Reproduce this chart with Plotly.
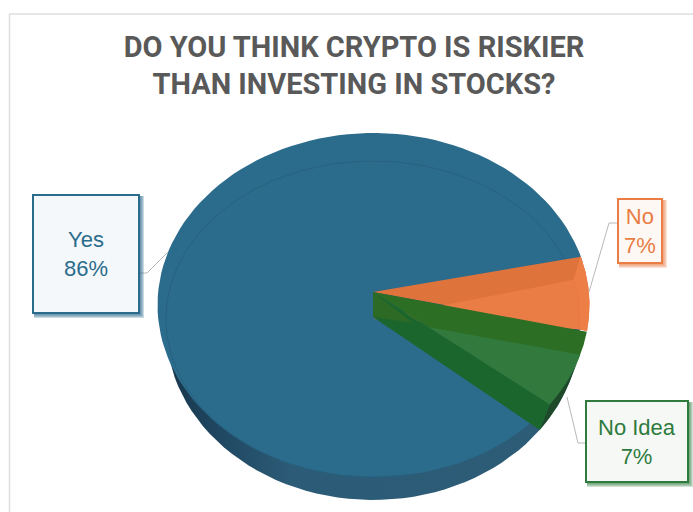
import numpy as np
import plotly.graph_objects as go

# ---- data ----
categories = ["No", "No Idea", "Yes"]
values = [7.0, 7.4, 85.6]
label_texts = ["No<br>7%", "No Idea<br>7%", "Yes<br>86%"]
title_text = "DO YOU THINK CRYPTO IS RISKIER<br>THAN INVESTING IN STOCKS?"

# ---- geometry of the tilted pie (axes run in page pixels) ----
START_ANGLE = 16.5
CX, CY, RX, RY = 373.5, 305.0, 216.0, 172.0          # rim of the top surface
IX, IY, IRX, IRY = 373.0, 319.0, 207.0, 158.0        # inner facet
BX, BY, BRX, BRY = 373.0, 328.0, 207.0, 172.0        # underside
APEX = (373.0, 292.0)
APEX_LOW = (373.0, 317.0)

BOXES = {"No": (618, 199, 662, 263), "No Idea": (586, 401, 688, 482), "Yes": (33, 195, 139, 313)}
LEADERS = {
    "No": ([617, 609, 589], [223, 223, 292]),
    "No Idea": ([586, 578, 567], [443, 443, 397]),
    "Yes": ([139, 147, 168], [273, 273, 252]),
}
EDGE = {"No": "#E97D45", "No Idea": "#2E7B3D", "Yes": "#2B6C8C"}
FILL = {"No": "#FEF8F4", "No Idea": "#F6F8F6", "Yes": "#F4F8FA"}
SHADOW = {"No": "rgba(233,125,69,0.22)", "No Idea": "rgba(46,123,61,0.22)", "Yes": "rgba(43,108,140,0.25)"}


def arc(cx, cy, rx, ry, a0, a1, n=120):
    t = np.radians(np.linspace(a0, a1, n))
    return list(cx + rx * np.cos(t)), list(cy - ry * np.sin(t))


def rim(a0, a1):
    return arc(CX, CY, RX, RY, a0, a1)


def inner(a0, a1):
    return arc(IX, IY, IRX, IRY, a0, a1)


def under(a0, a1, n=120):
    return arc(BX, BY, BRX, BRY, a0, a1, n)


def intersect(p1, p2, p3, p4):
    a = np.array([[p2[0] - p1[0], p3[0] - p4[0]], [p2[1] - p1[1], p3[1] - p4[1]]])
    b = np.array([p3[0] - p1[0], p3[1] - p1[1]])
    s = np.linalg.solve(a, b)[0]
    return p1[0] + s * (p2[0] - p1[0]), p1[1] + s * (p2[1] - p1[1])


def poly(xs, ys, color, name, **kw):
    return go.Scatter(x=xs + xs[:1], y=ys + ys[:1], mode="lines", fill="toself", fillcolor=color,
                      line=dict(width=0, color=color), name=name, hoverinfo="name", **kw)


# slice angles from the values
cum = np.cumsum([0] + values)
ang = [START_ANGLE - 360.0 * c / sum(values) for c in cum]
a_no0, a_no1, a_id1, a_yes1 = ang

fig = go.Figure()

# underside, darker towards the left
ux, uy = under(0, 360)
fig.add_trace(go.Scatter(x=ux, y=uy, mode="lines", fill="toself",
                         fillgradient=dict(type="horizontal",
                                           colorscale=[[0, "#17364B"], [0.12, "#1F4660"], [0.3, "#2C5B77"], [1, "#2D5C77"]]),
                         line=dict(width=0), name="Yes side", hoverinfo="skip"))

# Yes slice, over a short arc of the same colour that closes the seam at the slice edge
x, y = rim(a_no0 - 2, a_no0 + 2)
fig.add_trace(poly([APEX[0]] + x, [APEX[1]] + y, "#2B6C8C", "Yes seam"))
x, y = rim(a_id1, a_yes1)
fig.add_trace(poly([APEX[0]] + x, [APEX[1]] + y, "#2B6C8C", "Yes"))
x, y = inner(a_no0 + 3, 280)
fig.add_trace(go.Scatter(x=x, y=y, mode="lines", line=dict(color="#28617F", width=1), hoverinfo="skip", name="Yes facet"))

# No slice
x, y = rim(a_no0, a_no1)
fig.add_trace(poly([APEX[0]] + x, [APEX[1]] + y, "#DE733B", "No"))
ox, oy = rim(a_no0, a_no1)
ix, iy = inner(a_no0 - 2, a_no1 + 5)
fig.add_trace(poly(ox + ix[::-1], oy + iy[::-1], "#EC7E46", "No rim"))
fig.add_trace(poly([IX] + ix, [IY] + iy, "#E97D45", "No face"))

# No Idea slice: darkest outer rim, wall, face
x1, y1 = under(a_id1 - 1, a_no1 - 10)
x2, y2 = rim(a_no1 - 10, a_id1)
fig.add_trace(poly(x1 + x2, y1 + y2, "#1E4A2A", "No Idea rim"))
x, y = rim(a_no1, a_id1)
fig.add_trace(poly([APEX[0]] + x, [APEX[1]] + y, "#2D6E25", "No Idea"))
fx, fy = rim(a_no1 - 8.1, a_id1)
corner = intersect(APEX, (fx[-1], fy[-1]), (IX, APEX_LOW[1]), (fx[0], fy[0]))
fig.add_trace(poly([corner[0]] + fx, [corner[1]] + fy, "#31793C", "No Idea face"))
bx, by = under(a_id1 - 1, a_id1 - 1, n=1)
fig.add_trace(poly([APEX[0], APEX_LOW[0], bx[0], fx[-1]], [APEX[1], APEX_LOW[1], by[0], fy[-1]], "#1B662D", "No Idea wall"))
fig.add_trace(poly([APEX[0], APEX_LOW[0], 413.0], [APEX[1], APEX_LOW[1], 323.0], "#2D6A25", "No Idea apex"))

# leader lines
for c in categories:
    fig.add_trace(go.Scatter(x=LEADERS[c][0], y=LEADERS[c][1], mode="lines",
                             line=dict(color="#B8B8B8", width=1), hoverinfo="skip", name=c + " leader"))

shapes = [
    dict(type="line", x0=9.5, x1=9.5, y0=14, y1=512, line=dict(color="#DEDEDE", width=1.5)),
    dict(type="line", x0=9, x1=693, y0=14, y1=14, line=dict(color="#DEDEDE", width=1.5)),
]
annotations = []
for c, txt in zip(categories, label_texts):
    x0, y0, x1, y1 = BOXES[c]
    for d in (5, 4, 3, 2):
        shapes.append(dict(type="rect", x0=x0 + 1, x1=x1 + d, y0=y0 + 1, y1=y1 + d,
                           fillcolor=SHADOW[c], line=dict(width=0)))
    shapes.append(dict(type="rect", x0=x0, x1=x1, y0=y0, y1=y1, fillcolor=FILL[c],
                       line=dict(color=EDGE[c], width=2)))
    annotations.append(dict(x=(x0 + x1) / 2, y=(y0 + y1) / 2, text=txt, showarrow=False, xref="x", yref="y",
                            align="center", font=dict(family="Liberation Sans, Arial, sans-serif", size=22, color=EDGE[c])))

fig.update_layout(
    width=693, height=512, margin=dict(l=0, r=0, t=0, b=0),
    paper_bgcolor="white", plot_bgcolor="rgba(0,0,0,0)", showlegend=False,
    title=dict(text=title_text, x=354 / 693, xanchor="center", xref="paper", y=1 - 56.5 / 512, yanchor="middle",
               yref="container", font=dict(family="Roboto, Arial, sans-serif", size=29, color="#595959", weight=700)),
    xaxis=dict(range=[0, 693], visible=False, fixedrange=True),
    yaxis=dict(range=[512, 0], visible=False, fixedrange=True),
    shapes=shapes, annotations=annotations,
)

fig.write_html("out.html", config={"displayModeBar": False},
               post_script="document.body.style.margin='0';document.body.style.overflow='hidden';")
